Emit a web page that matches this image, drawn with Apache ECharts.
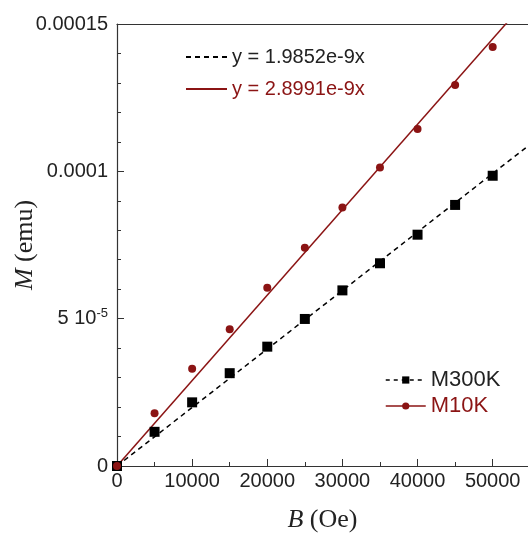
<!DOCTYPE html>
<html>
<head>
<meta charset="utf-8">
<script src="https://cdn.jsdelivr.net/npm/echarts@6/dist/echarts.min.js"></script>
<style>
  html, body { margin: 0; padding: 0; background: #fff; }
  #chart { width: 528px; height: 536px; }
</style>
</head>
<body>
<div id="chart"></div>
<script>
// field values (Oe)
const fieldB = [0, 5000, 10000, 15000, 20000, 25000, 30000, 35000, 40000, 45000, 50000];
// measured moment (emu)
const m300K = [0, 1.16e-5, 2.16e-5, 3.15e-5, 4.05e-5, 4.99e-5, 5.96e-5, 6.88e-5, 7.85e-5, 8.86e-5, 9.85e-5];
const m10K = [0, 1.79e-5, 3.30e-5, 4.64e-5, 6.05e-5, 7.41e-5, 8.77e-5, 10.13e-5, 11.44e-5, 12.93e-5, 14.22e-5];
// linear fits through origin, end points
const fit300K = [[0, 0], [54700, 1.0859e-4]];
const fit10K = [[0, 0], [54700, 1.5858e-4]];
const fitNames = ["y = 1.9852e-9x", "y = 2.8991e-9x"];
const yTickLabels = { 0: "0", 1: "5 10{sup|-5}", 2: "0.0001", 3: "0.00015" };

const RED = "#8b1414";
const TXT = "#222";

const chart = echarts.init(document.getElementById("chart"));

const nameStyle = {
  fontFamily: "Liberation Serif",
  fontSize: 26,
  color: TXT,
  rich: { i: { fontStyle: "italic", fontFamily: "Liberation Serif", fontSize: 26, color: TXT } },
};

const option = {
  animation: false,
  grid: { left: 117, right: 0, top: 24, bottom: 70, outerBoundsMode: "none" },
  legend: [
    {
      orient: "vertical",
      left: 180,
      top: 42,
      itemWidth: 41,
      itemHeight: 10,
      itemGap: 12,
      textStyle: { fontSize: 20, fontFamily: "Liberation Sans", color: TXT },
      data: [
        { name: fitNames[0], itemStyle: { opacity: 0 } },
        { name: fitNames[1], itemStyle: { opacity: 0 }, textStyle: { color: RED } },
      ],
    },
    {
      orient: "vertical",
      left: 380,
      top: 364,
      itemWidth: 40,
      itemHeight: 9,
      itemGap: 4,
      textStyle: { fontSize: 22, fontFamily: "Liberation Sans", color: TXT },
      data: [
        { name: "M300K", lineStyle: { opacity: 1, width: 1.5, type: [4, 4], color: "#000" } },
        { name: "M10K", lineStyle: { opacity: 1, width: 1.5, type: "solid", color: RED }, textStyle: { color: RED } },
      ],
    },
  ],
  xAxis: [
    {
      type: "value",
      min: 0,
      max: 54700,
      interval: 10000,
      name: "{i|B} (Oe)",
      nameLocation: "middle",
      nameGap: 41,
      nameMoveOverlap: false,
      nameTextStyle: nameStyle,
      axisLine: { lineStyle: { color: "#333", width: 1.2 } },
      axisTick: { inside: true, length: 7, lineStyle: { color: "#333" } },
      minorTick: { show: true, splitNumber: 2, length: 4, lineStyle: { color: "#333" } },
      axisLabel: {
        fontSize: 20,
        fontFamily: "Liberation Sans",
        color: TXT,
        margin: 5,
        showMaxLabel: false,
        formatter: (v) => String(v),
      },
      splitLine: { show: false },
    },
    {
      type: "value",
      position: "top",
      min: 0,
      max: 54700,
      axisLine: { lineStyle: { color: "#333", width: 1.2 } },
      axisTick: { show: false },
      axisLabel: { show: false },
      splitLine: { show: false },
    },
  ],
  yAxis: {
    type: "value",
    min: 0,
    max: 0.00015,
    interval: 0.00005,
    name: "{i|M} (emu)",
    nameLocation: "middle",
    nameGap: 79,
    nameMoveOverlap: false,
    nameTextStyle: nameStyle,
    axisLine: { lineStyle: { color: "#333", width: 1.2 } },
    axisTick: { inside: true, length: 7, lineStyle: { color: "#333" } },
    minorTick: { show: true, splitNumber: 5, length: 4, lineStyle: { color: "#333" } },
    axisLabel: {
      fontSize: 20,
      fontFamily: "Liberation Sans",
      color: TXT,
      margin: 9,
      formatter: (v) => {
        const idx = Math.round(v / 0.00005);
        return yTickLabels[idx] || "";
      },
      rich: { sup: { fontSize: 13, fontFamily: "Liberation Sans", color: TXT, padding: [0, 0, 10, 0] } },
    },
    splitLine: { show: false },
  },
  series: [
    {
      name: fitNames[0],
      type: "line",
      symbol: "none",
      data: fit300K,
      lineStyle: { color: "#000", width: 1.5, type: [5, 4] },
      itemStyle: { color: "#000" },
      z: 2,
    },
    {
      name: fitNames[1],
      type: "line",
      symbol: "none",
      data: fit10K,
      lineStyle: { color: RED, width: 1.5 },
      itemStyle: { color: RED },
      z: 2,
    },
    {
      name: "M300K",
      type: "line",
      symbol: "rect",
      symbolSize: 10,
      data: fieldB.map((b, i) => [b, m300K[i]]),
      lineStyle: { opacity: 0, width: 0 },
      itemStyle: { color: "#000" },
      z: 3,
    },
    {
      name: "M10K",
      type: "line",
      symbol: "circle",
      symbolSize: 8,
      data: fieldB.map((b, i) => [b, m10K[i]]),
      lineStyle: { opacity: 0, width: 0 },
      itemStyle: { color: RED },
      z: 4,
    },
  ],
};

chart.setOption(option);
</script>
</body>
</html>
